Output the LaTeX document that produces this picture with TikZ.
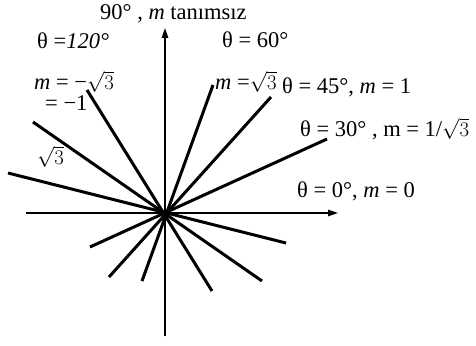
\documentclass[tikz,border=0pt]{standalone}
\usepackage{fontspec}
\setmainfont{Liberation Serif}
\usetikzlibrary{arrows.meta}
\begin{document}
\begin{tikzpicture}[x=1pt,y=-1pt,
  ray/.style={line width=3pt},
  axis/.style={line width=1.4pt,-{Triangle[length=10pt,width=6.5pt]}},
  lbl/.style={anchor=west,inner sep=0pt,font=\fontsize{22.5}{24}\selectfont}]
\useasboundingbox (0,0) rectangle (476,345);
\coordinate (O) at (165,213);
% axes
\coordinate (xl) at (26,213);
\coordinate (xr) at (338,213);
\coordinate (yb) at (165,336);
\coordinate (yt) at (165,28);
\draw[axis] (xl) -- (xr);
\draw[axis] (yb) -- (yt);
% rays through the origin
\coordinate (a1) at (8,173);   \coordinate (b1) at (286,243);
\coordinate (a2) at (33,122);  \coordinate (b2) at (262,281);
\coordinate (a3) at (87,90);   \coordinate (b3) at (212,291);
\coordinate (a4) at (213,85);  \coordinate (b4) at (142,281);
\coordinate (a5) at (271,97);  \coordinate (b5) at (109,277);
\coordinate (a6) at (327,139); \coordinate (b6) at (90,247);
\foreach \i in {1,...,6}{\draw[ray] (a\i) -- (b\i);}
\fill (O) circle (3.5pt);
% labels
\node[lbl] (t90) at (100,14) {90° , \textit{m} tanımsız};
\node[lbl] (t120) at (37,41) {θ =\textit{120°}};
\node[lbl] (m120) at (34,82) {\textit{m} = −\(\sqrt{3}\)};
\node[lbl] (e1) at (45,103) {= −1};
\node[lbl] (s3) at (37,157) {\(\sqrt{3}\)};
\node[lbl] (t60) at (222,40) {θ = 60°};
\node[lbl] (m60) at (215,82) {\textit{m} =\(\sqrt{3}\)};
\node[lbl] (t45) at (282,87) {θ = 45°, \textit{m} = 1};
\node[lbl] (t30) at (300,129) {θ = 30° , m = 1/\(\sqrt{3}\)};
\node[lbl] (t0) at (297,191) {θ = 0°, \textit{m} = 0};
\end{tikzpicture}
\end{document}
